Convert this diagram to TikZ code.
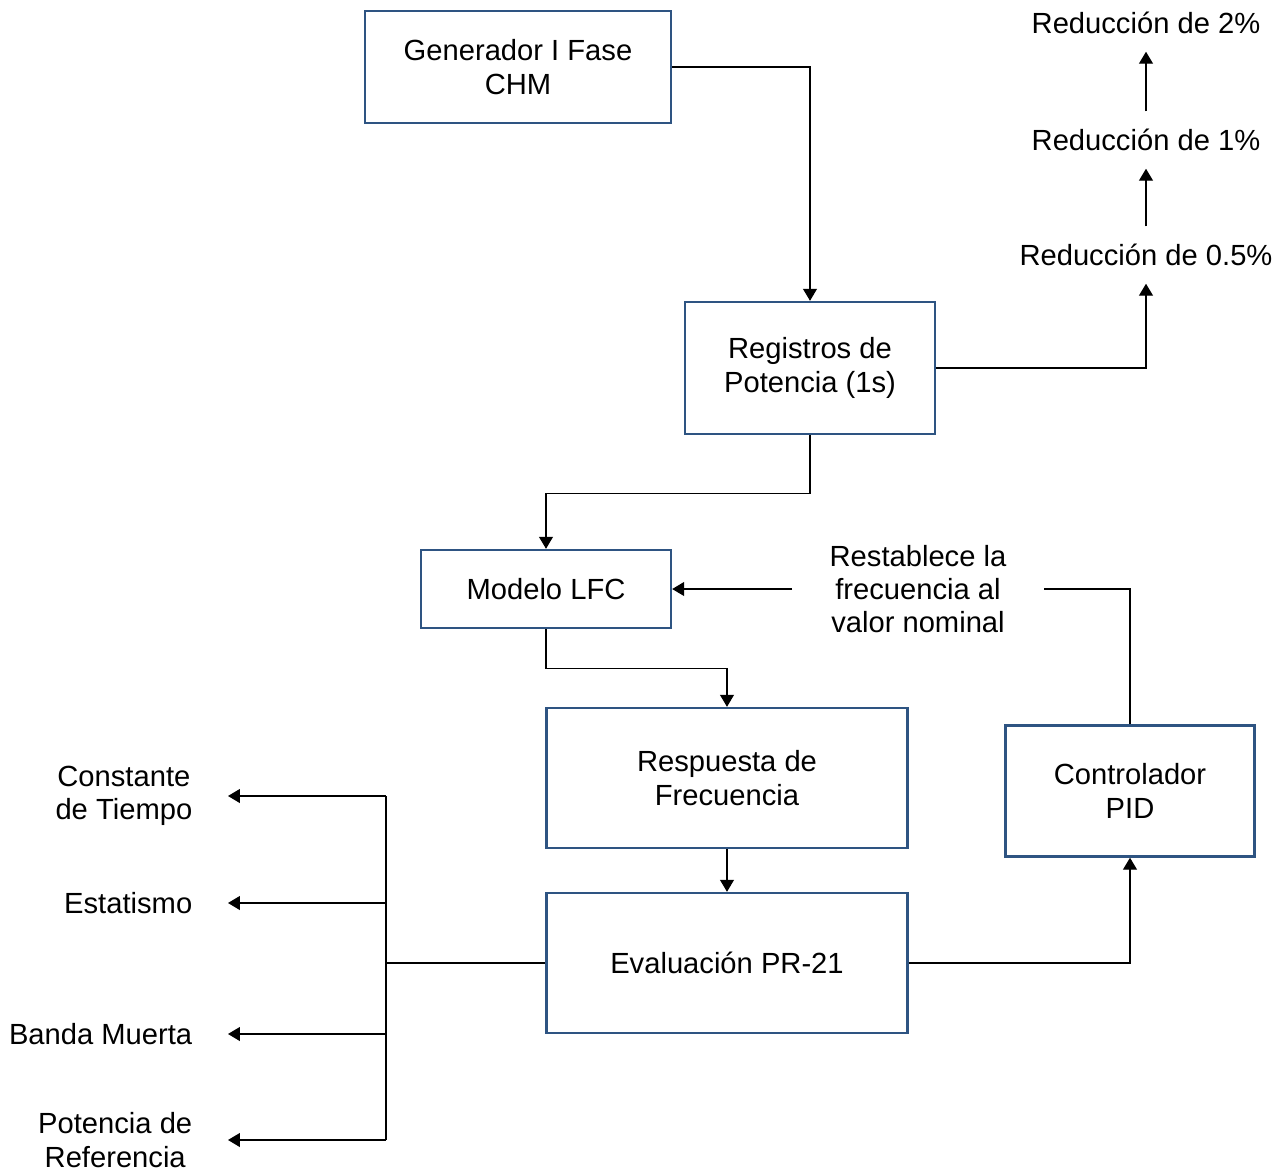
\documentclass[tikz,border=0pt]{standalone}
\usepackage{fontspec}
\setmainfont{Liberation Sans}
\usetikzlibrary{arrows.meta}
\definecolor{bordeazul}{RGB}{46,84,130}
\tikzset{bloque/.style={draw=bordeazul,line width=1.4pt,fill=white,align=center,inner sep=0pt},
	reduc/.style={inner xsep=0pt,inner ysep=10pt,text height=12pt,text depth=0pt},
	etiq/.style={align=center,inner xsep=20pt,inner ysep=2pt}}

\begin{document}
\begin{tikzpicture}[x=0.02cm,y=-0.02cm,>={Triangle[length=2.4mm,width=2.8mm]},line width=0.7pt,
	every node/.style={font=\fontsize{16.6}{19}\selectfont}]
\useasboundingbox (0,0) rectangle (1286,1174);

\node[bloque,minimum width=6.12cm,minimum height=2.24cm] (gen) at (518,67) {Generador I Fase\\CHM};
\node[bloque,minimum width=5.0cm,minimum height=2.64cm] (reg) at (810,368) {Registros de\\Potencia (1s)};
\node[bloque,minimum width=5.0cm,minimum height=1.56cm] (mod) at (546,589) {Modelo LFC};
\node[bloque,minimum width=7.22cm,minimum height=2.8cm] (resp) at (727,778) {Respuesta de\\Frecuencia};
\node[bloque,minimum width=7.22cm,minimum height=2.8cm] (eval) at (727,963) {Evaluación PR-21};
\node[bloque,minimum width=4.98cm,minimum height=2.62cm] (pid) at (1130,791) {Controlador\\PID};

\node[reduc] (r05) at (1146,255) {Reducción de 0.5\%};
\node[reduc] (r1) at (1146,140) {Reducción de 1\%};
\node[reduc] (r2) at (1146,23) {Reducción de 2\%};

\node[align=center,inner xsep=21pt] (rest) at (918,589) {Restablece la\\frecuencia al\\valor nominal};

\node[etiq,anchor=east] (ct) at (228,796) {Constante\\de Tiempo};
\node[etiq,anchor=east] (est) at (228,903) {Estatismo};
\node[etiq,anchor=east] (bm) at (228,1034) {Banda Muerta};
\node[etiq,anchor=east] (pr) at (228,1140) {Potencia de\\Referencia};

\coordinate (jct) at (386,963);

\draw[->] (gen.east) -| (reg.north);
\draw[->] (reg.east) -| (r05.south);
\draw[->] (r05.north) -- (r1.south);
\draw[->] (r1.north) -- (r2.south);
\draw[->] (reg.south) -- ++(0,58) -| (mod.north);
\draw[->] (mod.south) -- ++(0,39) -| (resp.north);
\draw[->] (resp.south) -- (eval.north);
\draw[->] (eval.east) -| (pid.south);
\draw (pid.north) |- (rest.east);
\draw[->] (rest.west) -- (mod.east);

\draw (eval.west) -- (jct);
\draw (jct |- ct.east) -- (jct |- pr.east);
\foreach \e in {ct,est,bm,pr} {
	\draw[->] (jct |- \e.east) -- (\e.east);
};

\end{tikzpicture}
\end{document}
